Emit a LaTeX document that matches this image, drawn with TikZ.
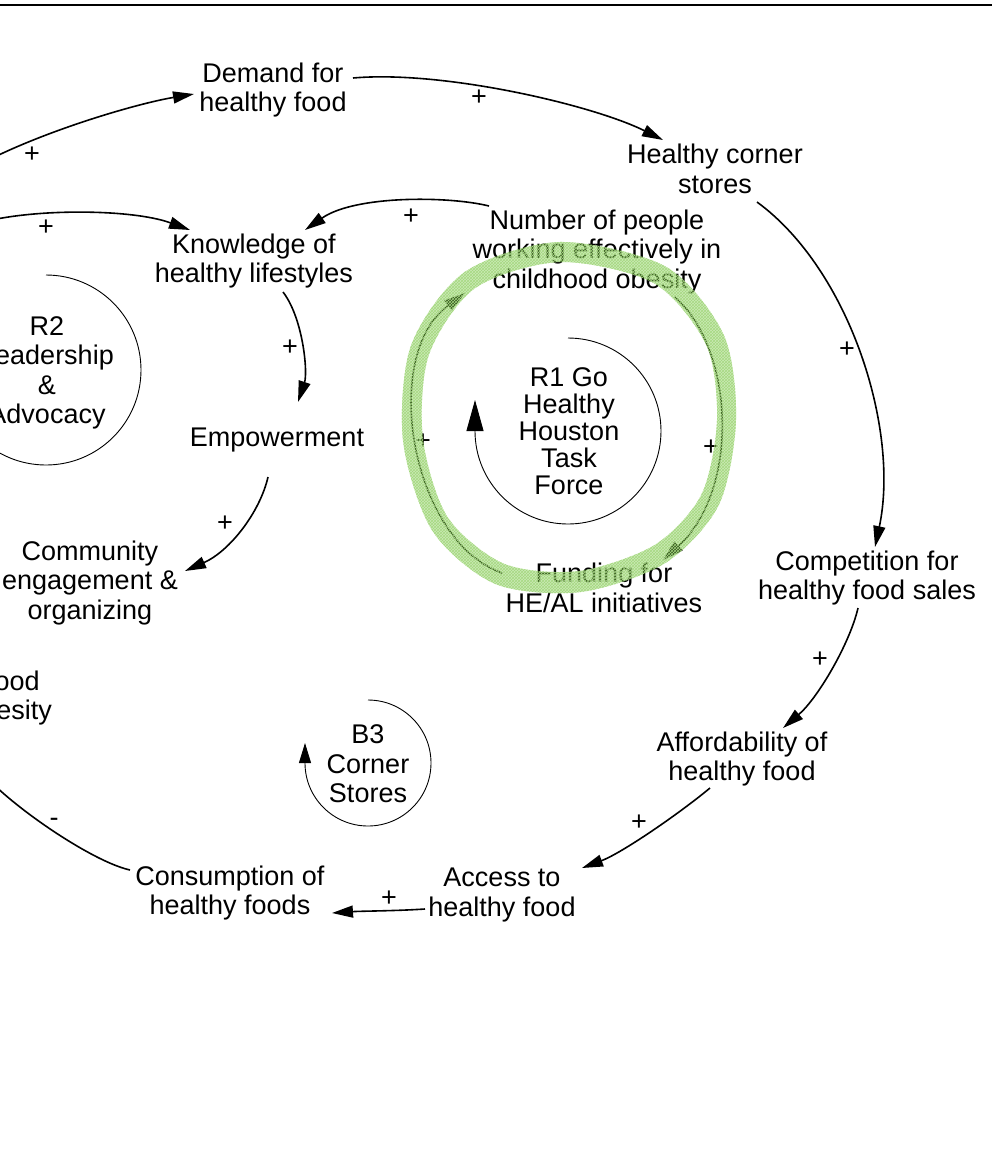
\documentclass[tikz,border=0pt]{standalone}
\usepackage{fontspec}
\setmainfont{Liberation Sans}
\usetikzlibrary{arrows.meta, calc, patterns}
\definecolor{ringgreen}{RGB}{130,205,80}
\definecolor{hatchgreen}{RGB}{165,215,128}
\newcommand{\varfont}{\fontsize{27pt}{29.5pt}\selectfont}

\begin{document}
\begin{tikzpicture}[x=1pt, y=-1pt,
  var/.style={align=center, inner sep=1pt, font=\varfont},
  sign/.style={inner sep=0pt, font=\varfont},
  link/.style={line width=1.6pt, -{Triangle[length=21pt, width=12pt]}},
  loopline/.style={line width=0.9pt}]
\useasboundingbox (0,0) rectangle (992,1163);
\clip (0,0) rectangle (992,1163);

% frame line at the top
\draw[line width=2.6pt] (0,5) -- (992,5);

% Define the variables
\node[var] (demand) at (273,90) {Demand for\\healthy food};
\node[var] (stores) at (715,169) {Healthy corner\\stores};
\node[var] (people) at (597,252) {Number of people\\working effectively in\\childhood obesity};
\node[var] (knowledge) at (254,261) {Knowledge of\\healthy lifestyles};
\node[var] (empower) at (277,440) {Empowerment};
\node[var] (community) at (90,583) {Community\\engagement \&\\organizing};
\node[var] (funding) at (604,588) {Funding for\\HE/AL initiatives};
\node[var] (competition) at (867,578) {Competition for\\healthy food sales};
\node[var] (afford) at (742,759) {Affordability of\\healthy food};
\node[var] (access) at (502,895) {Access to\\healthy food};
\node[var] (consumption) at (230,893) {Consumption of\\healthy foods};
\node[var, align=right, anchor=east] (obesity) at (53,698) {Childhood\kern12pt\\obesity};
\coordinate (leftA) at (-30,170);
\coordinate (leftB) at (-30,226);

% Loop names
\node[var] (rtwo) at (47,373) {R2\\Leadership\\\&\\Advocacy};
\node[var, font=\fontsize{27pt}{27pt}\selectfont] (rone) at (569,431) {R1 Go\\Healthy\\Houston\\Task\\Force};
\node[var] (bthree) at (368,764) {B3\\Corner\\Stores};
\draw[loopline, -{Triangle[length=30pt, width=17pt]}] (46,275) arc[start angle=-90, end angle=180, radius=95] -- ++(0,-30);
\draw[loopline, -{Triangle[length=31pt, width=17pt]}] (568,338) arc[start angle=-90, end angle=180, radius=93] -- ++(0,-31);
\draw[loopline, -{Triangle[length=20pt, width=12pt]}] (368,700) arc[start angle=-90, end angle=180, radius=63] -- ++(0,-20);

% Draw the links
\draw[link] (leftA) .. controls +(60,-35) and +(-60,10) .. ($(demand)+(-79,4)$);
\draw[link] (leftB) .. controls +(50,-18) and +(-60,-22) .. ($(knowledge)+(-64,-31)$);
\draw[link] ($(demand)+(80,-12)$) .. controls +(90,-8) and +(-70,-35) .. ($(stores)+(-52,-29)$);
\draw[link] ($(people)+(-108,-46)$) .. controls +(-40,-10) and +(50,-35) .. ($(knowledge)+(51,-31)$);
\draw[link] ($(stores)+(42,33)$) .. controls +(93,68) and +(25,-117) .. ($(competition)+(8,-31)$);
\draw[link] ($(knowledge)+(29,31)$) .. controls +(20,26) and +(10,-30) .. ($(empower)+(21,-38)$);
\draw[link] ($(empower)+(-9,37)$) .. controls +(-8,35) and +(45,-20) .. ($(community)+(95,-12)$);
\draw[link] ($(people)+(78,45)$) .. controls +(60,53) and +(77,-70) .. ($(funding)+(59,-28)$);
\draw[link] ($(funding)+(-102,-15)$) .. controls +(-92,-33) and +(-85,62) .. ($(people)+(-132,41)$);
\draw[link] ($(competition)+(-9,30)$) .. controls +(-8,35) and +(35,-30) .. ($(afford)+(41,-31)$);
\draw[link] ($(afford)+(-32,29)$) .. controls +(-30,25) and +(40,-15) .. ($(access)+(80,-27)$);
\draw[link] ($(access)+(-77,14)$) .. controls +(-30,2) and +(30,-2) .. ($(consumption)+(102,20)$);
\draw[link] ($(consumption)+(-100,-23)$) .. controls +(-45,-10) and +(10,45) .. ($(obesity.east)+(-83,41)$);

% Polarities
\foreach \p [count=\i] in {(32,155),(46,228),(479,98),(411,217),(290,348),(225,524),(847,350),(711,448),(423,442),(820,660),(639,823),(389,899)}
  \node[sign] (plus\i) at \p {+};
\node[sign] (minus) at (54,822) {-};

% highlighted R1 loop
\fill[ringgreen, fill opacity=0.42, even odd rule,
  postaction={pattern=crosshatch, pattern color=hatchgreen}]
  plot[smooth cycle] coordinates {(559.5,242) (665.9,266.7) (723.7,334.8) (736,420) (718.6,505.4) (665.2,563.1) (580.9,592) (495.6,584.1) (432.5,531) (403.1,441.4) (411.1,345.3) (464.7,272)}
  plot[smooth cycle] coordinates {(560.5,262) (654.1,283.3) (706.3,345.2) (717,420) (701.4,494.6) (654.8,544.9) (579.1,571) (504.4,563.9) (447.5,517) (422.9,438.6) (428.9,354.7) (475.3,288)};
\end{tikzpicture}
\end{document}
